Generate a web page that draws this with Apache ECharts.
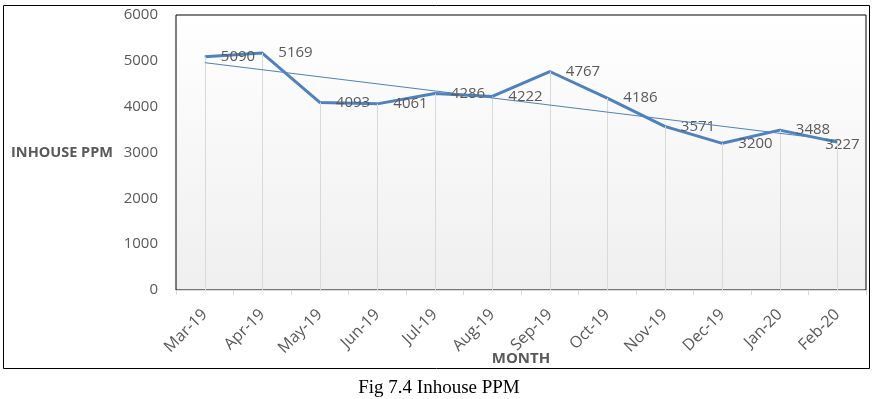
<!DOCTYPE html>
<html>
<head>
<meta charset="utf-8">
<style>
  html, body { margin: 0; padding: 0; background: #fff; }
  #chart { width: 878px; height: 399px; }
</style>
<script src="https://cdn.jsdelivr.net/npm/echarts@6/dist/echarts.min.js"></script>
</head>
<body>
<div id="chart"></div>
<script>
  // 月份
  var months = ['Mar-19', 'Apr-19', 'May-19', 'Jun-19', 'Jul-19', 'Aug-19',
    'Sep-19', 'Oct-19', 'Nov-19', 'Dec-19', 'Jan-20', 'Feb-20']
  // inhouse ppm
  var ppm = [5090, 5169, 4093, 4061, 4286, 4222, 4767, 4186, 3571, 3200, 3488, 3227]
  // trend line ends
  var trendEnds = [4960, 3265]
  var yTicks = { min: 0, max: 6000, interval: 1000 }

  var txt = '#595959'
  var font = 'Open Sans'
  var blue = '#4F81BD'

  var chart = echarts.init(document.getElementById('chart'))

  var dropLines = months.map(function (m, i) {
    return [{ coord: [m, 0] }, { coord: [m, ppm[i]] }]
  })

  var lineData = ppm.map(function (v, i) {
    if (i === ppm.length - 1) {
      return { value: v, label: { offset: [-28, 3] } }
    }
    return v
  })

  chart.setOption({
    animation: false,
    title: {
      text: 'Fig 7.4 Inhouse PPM',
      left: 'center',
      top: 374,
      textStyle: { fontFamily: 'Liberation Serif', fontWeight: 'normal', fontSize: 19, color: '#000' }
    },
    graphic: [{
      type: 'rect',
      shape: { x: 3.5, y: 5.5, width: 866, height: 363 },
      style: { fill: 'none', stroke: '#000', lineWidth: 1 },
      silent: true
    }],
    grid: {
      left: 176,
      top: 15,
      right: 12,
      bottom: 109,
      show: true,
      borderColor: '#000',
      borderWidth: 1,
      backgroundColor: {
        type: 'linear', x: 0, y: 0, x2: 0, y2: 1,
        colorStops: [{ offset: 0, color: '#ffffff' }, { offset: 1, color: '#efefef' }]
      }
    },
    xAxis: {
      type: 'category',
      data: months,
      boundaryGap: true,
      name: 'MONTH',
      nameLocation: 'middle',
      nameGap: 61,
      nameMoveOverlap: false,
      nameTextStyle: { fontFamily: font, fontWeight: 'bold', fontSize: 15, color: txt },
      axisLine: { lineStyle: { color: '#d9d9d9' } },
      axisTick: { show: true, length: 5, lineStyle: { color: '#d9d9d9' } },
      axisLabel: { rotate: 45, margin: 22, fontFamily: font, fontSize: 16, color: txt },
      splitLine: { show: false }
    },
    yAxis: {
      type: 'value',
      min: yTicks.min,
      max: yTicks.max,
      interval: yTicks.interval,
      name: 'INHOUSE PPM',
      nameLocation: 'middle',
      nameRotate: 0,
      nameGap: 63,
      nameTextStyle: { fontFamily: font, fontWeight: 'bold', fontSize: 14.5, color: txt },
      axisLine: { show: false },
      axisTick: { show: false },
      axisLabel: {
        margin: 18, fontFamily: font, fontSize: 15, color: txt,
        formatter: function (v) { return String(v) }
      },
      splitLine: { show: false }
    },
    series: [
      {
        // drop lines
        type: 'line',
        data: [],
        z: 1,
        silent: true,
        markLine: {
          silent: true,
          symbol: ['none', 'none'],
          label: { show: false },
          lineStyle: { color: '#d9d9d9', width: 1, type: 'solid' },
          data: dropLines
        }
      },
      {
        // trend
        type: 'line',
        data: [],
        z: 2,
        silent: true,
        markLine: {
          silent: true,
          symbol: ['none', 'none'],
          label: { show: false },
          lineStyle: { color: blue, width: 1, type: 'solid' },
          data: [[{ coord: [months[0], trendEnds[0]] }, { coord: [months[months.length - 1], trendEnds[1]] }]]
        }
      },
      {
        name: 'INHOUSE PPM',
        type: 'line',
        data: lineData,
        z: 3,
        showSymbol: true,
        symbol: 'circle',
        symbolSize: 0.1,
        lineStyle: { color: blue, width: 3 },
        itemStyle: { color: blue },
        label: {
          show: true,
          position: 'right',
          distance: 16,
          fontFamily: font,
          fontSize: 15,
          color: txt
        }
      }
    ]
  })
</script>
</body>
</html>
